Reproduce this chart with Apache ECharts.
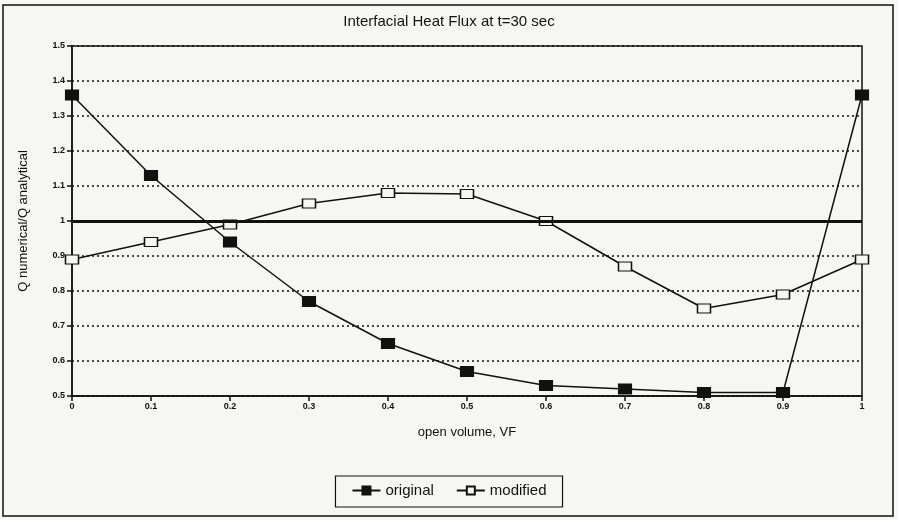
<!DOCTYPE html>
<html>
<head>
<meta charset="utf-8">
<script src="https://cdn.jsdelivr.net/npm/echarts@6/dist/echarts.min.js"></script>
<style>
html,body{margin:0;padding:0;background:#f6f6f4;}
#c{width:898px;height:520px;}
</style>
</head>
<body>
<div id="c"></div>
<script>
const xValues = [0, 0.1, 0.2, 0.3, 0.4, 0.5, 0.6, 0.7, 0.8, 0.9, 1];
const original = [1.36, 1.13, 0.94, 0.77, 0.65, 0.57, 0.53, 0.52, 0.51, 0.51, 1.36];
const modified = [0.89, 0.94, 0.99, 1.05, 1.08, 1.077, 1.0, 0.87, 0.75, 0.79, 0.89];
const referenceLine = 1;
const titleText = 'Interfacial Heat Flux at t=30 sec';
const xName = 'open volume, VF';
const yName = 'Q numerical/Q analytical';
const seriesNames = ['original', 'modified'];

const chart = echarts.init(document.getElementById('c'), null, {renderer: 'canvas'});
const font = 'Liberation Sans, Arial, sans-serif';
const pair = (arr) => xValues.map((x, i) => [x, arr[i]]);

chart.setOption({
  backgroundColor: '#f6f6f4',
  animation: false,
  textStyle: {fontFamily: font, color: '#111'},
  title: {
    text: titleText, left: 'center', top: 9,
    textStyle: {fontFamily: font, fontSize: 15, fontWeight: 'normal', color: '#111'}
  },
  graphic: [{
    type: 'rect', shape: {x: 3, y: 5, width: 890, height: 511},
    style: {fill: 'none', stroke: '#111', lineWidth: 1.5}, silent: true, z: -1
  }],
  grid: {left: 72, right: 36, top: 46, bottom: 124, show: true, borderColor: '#111', borderWidth: 1.5, backgroundColor: 'transparent'},
  legend: {
    data: seriesNames, top: 476, left: 'center',
    borderColor: '#111', borderWidth: 1.2, padding: [7, 16, 9, 16],
    itemWidth: 28, itemHeight: 10, itemGap: 22,
    textStyle: {fontFamily: font, fontSize: 15, color: '#111'}
  },
  xAxis: {
    type: 'value', min: 0, max: 1, interval: 0.1,
    name: xName, nameLocation: 'middle', nameGap: 30,
    nameTextStyle: {fontFamily: font, fontSize: 13, color: '#111'},
    axisLine: {show: true, lineStyle: {color: '#111', width: 1.5}},
    axisTick: {show: true, length: 5, lineStyle: {color: '#111', width: 1.5}},
    axisLabel: {fontSize: 9, fontWeight: 'bold', color: '#111', margin: 6,
      formatter: v => (v === 0 || v === 1) ? String(v) : v.toFixed(1)},
    splitLine: {show: false}
  },
  yAxis: {
    type: 'value', min: 0.5, max: 1.5, interval: 0.1,
    name: yName, nameLocation: 'middle', nameGap: 42, nameRotate: 90,
    nameTextStyle: {fontFamily: font, fontSize: 13, color: '#111'},
    axisLine: {show: true, lineStyle: {color: '#111', width: 1.5}},
    axisTick: {show: true, length: 5, lineStyle: {color: '#111', width: 1.5}},
    axisLabel: {fontSize: 9, fontWeight: 'bold', color: '#111', margin: 7,
      formatter: v => Math.abs(v - 1) < 1e-9 ? '1' : v.toFixed(1)},
    splitLine: {show: true, lineStyle: {color: '#111', width: 1.5, type: [2, 3]}}
  },
  series: [
    {
      name: seriesNames[0], type: 'line', data: pair(original),
      symbol: 'rect', symbolSize: [13, 10],
      lineStyle: {color: '#111', width: 1.5},
      itemStyle: {color: '#111', borderColor: '#111', borderWidth: 1},
      z: 3,
      markLine: {
        silent: true, symbol: 'none', label: {show: false},
        lineStyle: {color: '#111', width: 3, type: 'solid'},
        data: [{yAxis: referenceLine}]
      }
    },
    {
      name: seriesNames[1], type: 'line', data: pair(modified),
      symbol: 'rect', symbolSize: [13, 9],
      lineStyle: {color: '#111', width: 1.5},
      itemStyle: {color: '#f6f6f4', borderColor: '#111', borderWidth: 1.3},
      z: 4
    }
  ]
});
</script>
</body>
</html>
